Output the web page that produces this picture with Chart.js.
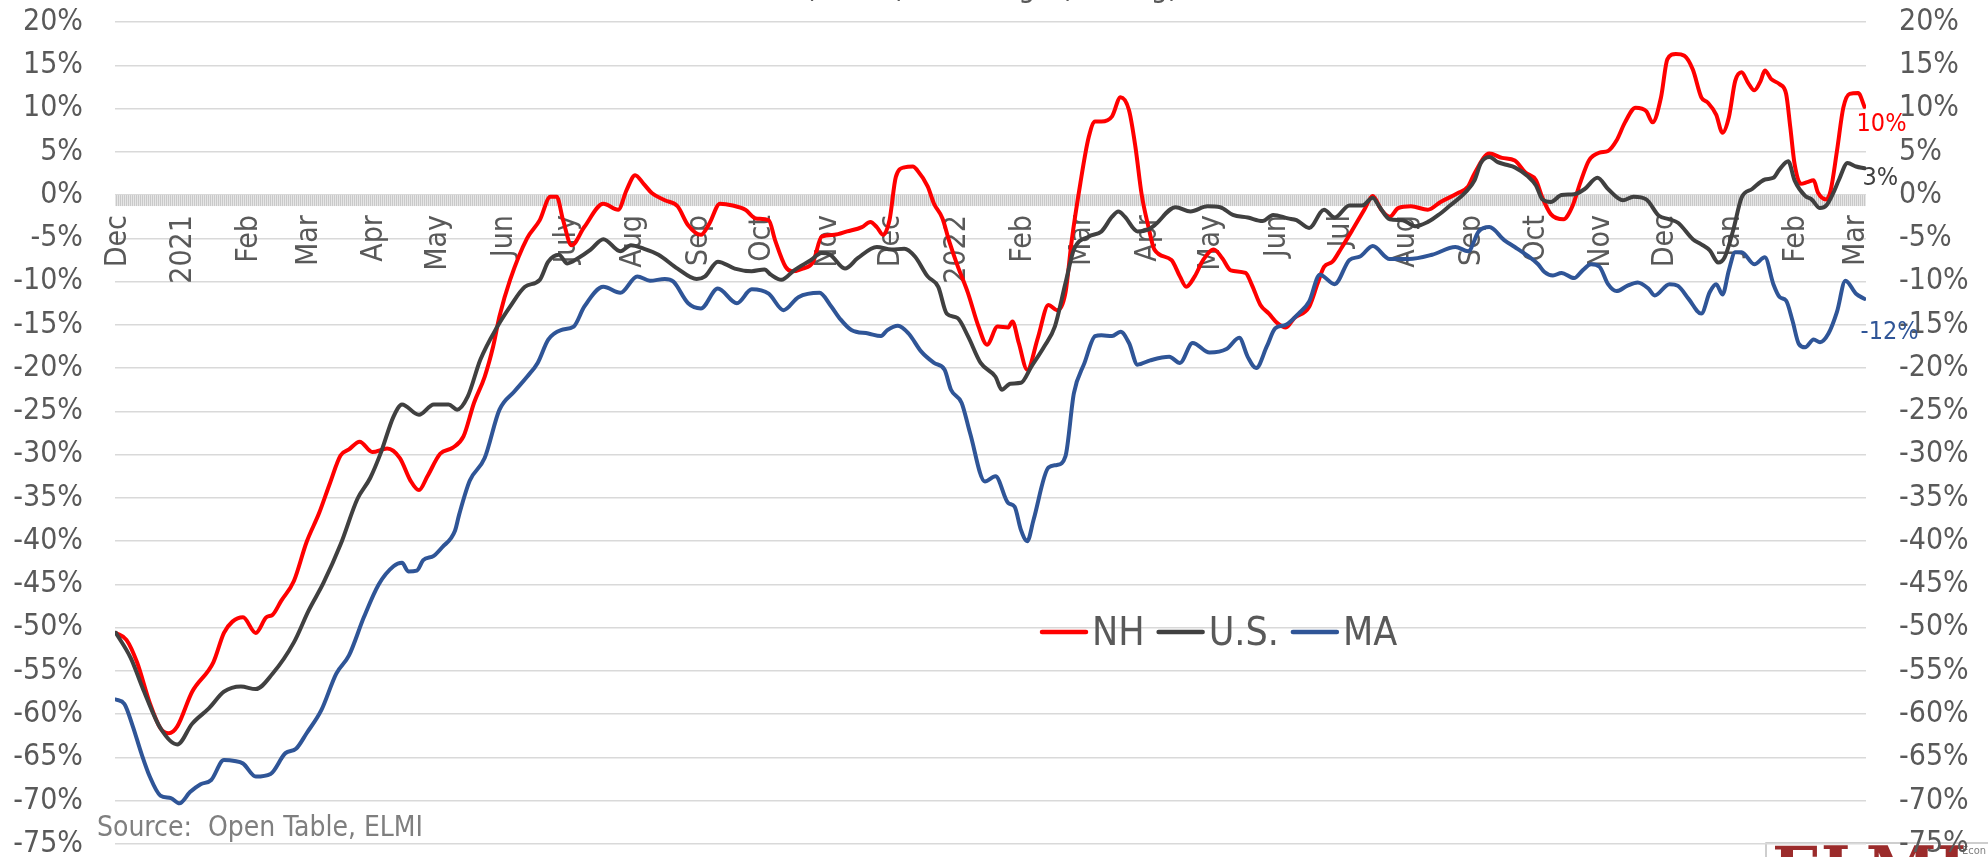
<!DOCTYPE html>
<html>
<head>
<meta charset="utf-8">
<title>Seated Diners (7DMA) % Change</title>
<style>
    body {
        margin: 0;
        background-color: #ffffff;
    }
    #wrap {
        width: 1988px;
        height: 857px;
    }
</style>
</head>
<body>
<div id="wrap"><canvas id="chart" width="1988" height="857"></canvas></div>

<script src="https://cdn.jsdelivr.net/npm/chart.js"></script>
<script>
// x = day number counted from Dec 1, 2020
const monthDays = [0, 31, 62, 90, 121, 151, 182, 212, 243, 274, 304, 335, 365, 396, 427, 455, 486, 516, 547, 577, 608, 639, 669, 700, 730, 761, 792, 820];
const monthLabels = ['Dec', '2021', 'Feb', 'Mar', 'Apr', 'May', 'Jun', 'July', 'Aug', 'Sep', 'Oct', 'Nov', 'Dec', '2022', 'Feb', 'Mar', 'Apr', 'May', 'Jun', 'Jul', 'Aug', 'Sep', 'Oct', 'Nov', 'Dec', 'Jan', 'Feb', 'Mar'];

const seriesNames = ['NH', 'U.S.', 'MA'];

const nhDays = [-1, 4, 9, 15, 20, 24, 28, 35, 45, 50, 54, 59, 65, 70, 73, 77, 83, 89, 95, 100, 105, 109, 114, 120, 127, 133, 138, 142, 146, 152, 158, 163, 168, 173, 177, 180, 185, 193, 199, 204, 207, 210, 214, 220, 229, 236, 240, 244, 248, 252, 258, 264, 269, 275, 279, 284, 290, 296, 301, 307, 310, 315, 318, 323, 328, 332, 338, 344, 351, 355, 358, 361, 364, 367, 371, 375, 377, 382, 385, 389, 392, 396, 401, 406, 410, 415, 420, 422, 425, 429, 434, 439, 443, 447, 450, 454, 458, 461, 464, 469, 473, 477, 480, 483, 486, 489, 497, 501, 504, 508, 512, 517, 521, 525, 532, 535, 539, 543, 547, 551, 555, 562, 566, 569, 573, 577, 582, 588, 592, 596, 600, 604, 610, 618, 624, 632, 637, 640, 647, 653, 659, 664, 669, 672, 676, 682, 686, 690, 694, 699, 703, 707, 711, 716, 721, 724, 728, 731, 735, 739, 743, 747, 750, 754, 757, 760, 763, 766, 769, 772, 775, 777, 780, 784, 787, 789, 791, 794, 797, 800, 802, 806, 808, 811, 814, 817, 821, 824];
const nhValues = [-50.6, -51.4, -54, -58.7, -61.6, -62.2, -61.4, -57.4, -54, -50.6, -49.3, -48.8, -50.6, -48.8, -48.5, -46.9, -44.6, -40.1, -36.7, -33.3, -30.1, -29.4, -28.5, -29.7, -29.3, -30.4, -33, -34.1, -32.5, -29.9, -29.2, -27.9, -24, -21, -17.5, -14, -9.8, -5, -2.9, -0.2, -0.2, -2.9, -5.8, -3.7, -1, -1.7, 0.6, 2.3, 1.3, 0.2, -0.6, -1.3, -3.5, -4.6, -3.3, -1, -1.2, -1.7, -2.7, -2.9, -5.2, -8.3, -8.8, -8.5, -7.7, -4.8, -4.6, -4.2, -3.7, -3.1, -3.7, -4.6, -2.9, 2.1, 3.2, 3.3, 2.9, 1, -1, -2.7, -5.2, -8.1, -11.3, -15.2, -17.3, -15.2, -15.3, -14.6, -17.1, -20.2, -16.5, -12.7, -13.3, -11.3, -5.2, 1.3, 6.7, 8.5, 8.5, 9.1, 11.3, 9.8, 5.6, 0, -3.5, -6.3, -7.5, -9.4, -10.6, -9.4, -7.5, -6.3, -7.3, -8.7, -9, -10.4, -12.7, -13.7, -14.8, -15.3, -14.2, -12.9, -10.2, -8.3, -7.7, -6.2, -4.2, -1.7, -0.1, -1.7, -2.5, -1.5, -1.3, -1.7, -0.8, 0.2, 1, 2.5, 4.8, 4.3, 4, 2.6, 1.7, -0.3, -2.2, -2.8, -1.4, 1.5, 4, 4.9, 5.1, 6.3, 8.4, 10.1, 9.7, 8.4, 11.3, 15.7, 16.3, 16.1, 14.5, 11.3, 10.7, 9.3, 7.2, 9, 13.2, 14.2, 13, 12.1, 13.2, 14.4, 13.4, 12.8, 11.7, 7.8, 3.6, 1.3, 1.5, 1.7, 0.3, -0.5, 0.5, 5.1, 10.1, 11.7, 11.8, 10.2];

const usDays = [-1, 6, 12, 20, 28, 35, 43, 50, 58, 65, 73, 83, 90, 97, 105, 113, 119, 124, 130, 134, 142, 149, 156, 160, 165, 171, 179, 185, 192, 199, 203, 208, 212, 217, 223, 229, 237, 242, 248, 255, 264, 273, 277, 283, 291, 299, 305, 308, 313, 319, 327, 332, 336, 343, 349, 358, 365, 371, 376, 382, 387, 391, 396, 401, 407, 414, 417, 421, 426, 431, 437, 442, 447, 451, 458, 464, 469, 472, 475, 481, 486, 489, 499, 506, 514, 520, 526, 533, 540, 545, 552, 556, 562, 569, 574, 581, 587, 592, 595, 600, 606, 612, 618, 623, 628, 636, 640, 643, 647, 651, 655, 659, 665, 669, 672, 676, 681, 687, 692, 698, 703, 710, 715, 721, 727, 732, 736, 743, 747, 751, 755, 758, 762, 766, 771, 777, 781, 784, 788, 791, 796, 799, 803, 806, 809, 812, 816, 820, 824];
const usValues = [-50.6, -53.5, -57.2, -61.6, -63.5, -61.1, -59.3, -57.4, -56.8, -57.1, -55.3, -51.7, -48, -44.8, -40.4, -35.1, -32.7, -29.8, -25.6, -24.2, -25.4, -24.2, -24.2, -24.8, -23.3, -19, -15.2, -12.9, -10.6, -9.8, -7.7, -6.9, -7.9, -7.3, -6.3, -5.1, -6.5, -5.8, -6.2, -6.9, -8.5, -9.7, -9.4, -7.7, -8.5, -8.8, -8.6, -9.2, -9.8, -8.7, -7.5, -6.7, -6.9, -8.5, -7.3, -6, -6.3, -6.2, -7.1, -9.4, -10.6, -13.7, -14.2, -16.3, -19.4, -21, -22.5, -21.8, -21.7, -19.8, -17.5, -15.2, -10.2, -6.3, -4.8, -4.2, -2.5, -1.9, -2.5, -4.2, -4, -3.5, -1.4, -1.9, -1.3, -1.4, -2.3, -2.6, -3, -2.3, -2.7, -2.9, -3.8, -1.7, -2.6, -1.2, -1.2, -0.3, -1.3, -2.8, -2.9, -3.6, -3.1, -2.3, -1.3, 0.4, 1.7, 3.7, 4.4, 3.8, 3.5, 3.2, 2.2, 1.1, -0.5, -0.8, 0, 0.1, 0.7, 2, 0.7, -0.6, -0.2, -0.5, -2.4, -2.8, -3.2, -5.1, -5.7, -6.4, -7.8, -7.2, -4.1, -0.3, 0.7, 1.8, 2, 3, 3.9, 1.7, -0.1, -0.5, -1.5, -1.2, 0.1, 1.8, 3.7, 3.3, 3.1];

const maDays = [-1, 3, 7, 11, 15, 20, 25, 29, 34, 39, 44, 50, 55, 59, 65, 72, 79, 84, 89, 96, 103, 109, 116, 123, 130, 134, 137, 141, 144, 149, 153, 159, 161, 166, 173, 180, 187, 193, 198, 203, 209, 215, 220, 229, 237, 245, 251, 258, 262, 269, 275, 283, 292, 299, 307, 314, 321, 331, 336, 341, 346, 354, 360, 363, 368, 373, 379, 385, 390, 393, 398, 402, 409, 414, 420, 423, 426, 429, 432, 439, 443, 447, 451, 456, 461, 464, 469, 473, 477, 481, 487, 496, 501, 507, 515, 523, 529, 533, 537, 542, 546, 551, 557, 562, 567, 574, 581, 586, 592, 600, 609, 620, 631, 637, 642, 647, 654, 659, 665, 670, 673, 677, 681, 687, 691, 695, 699, 703, 707, 712, 717, 722, 725, 732, 736, 741, 747, 751, 754, 757, 760, 763, 766, 772, 777, 781, 784, 787, 790, 793, 796, 800, 803, 807, 811, 815, 820, 824];
const maValues = [-58.3, -58.8, -61.4, -64.5, -67.2, -69.4, -69.7, -70.3, -69, -68.1, -67.6, -65.3, -65.4, -65.7, -67.2, -66.9, -64.5, -64, -62.2, -59.5, -55.3, -53.2, -48.8, -45, -42.9, -42.5, -43.5, -43.4, -42.2, -41.7, -40.7, -38.8, -36.9, -33, -30.4, -24.8, -22.7, -21, -19.4, -16.7, -15.6, -15.2, -12.9, -10.6, -11.3, -9.4, -9.9, -9.7, -10, -12.5, -13.1, -10.8, -12.5, -10.9, -11.4, -13.3, -11.8, -11.3, -12.7, -14.4, -15.6, -16, -16.3, -15.6, -15.1, -16, -18.1, -19.4, -20.2, -22.5, -24, -27.5, -33.1, -32.5, -35.6, -36, -38.7, -40, -37.5, -31.5, -31.2, -30.2, -22.9, -19.4, -16.3, -16.2, -16.3, -15.8, -17.1, -19.6, -19.1, -18.7, -19.4, -17.1, -18.2, -17.8, -16.5, -18.7, -20, -17.5, -15.4, -15, -13.7, -12.3, -9.2, -10.3, -7.5, -7.1, -5.9, -7.4, -7.4, -6.9, -6, -6.5, -4.2, -3.7, -5.2, -6, -7, -8, -8.9, -9.3, -9, -9.6, -8.7, -8, -8.3, -10.3, -11.1, -10.5, -10.1, -10.8, -11.6, -10.3, -10.5, -12, -13.7, -11.2, -10.3, -11.5, -8.7, -6.6, -6.6, -8, -7.2, -10.3, -11.8, -12.2, -14.5, -17.2, -17.6, -16.7, -17, -16, -13.5, -9.9, -11.4, -12];

const textGray = '#595959';
const fontFam = "'DejaVu Sans Condensed', 'Liberation Sans Narrow', 'DejaVu Sans', sans-serif";

function toPoints(days, values) {
    return days.map((d, i) => ({ x: d, y: values[i] }));
}

// keep the y axes from pushing the plot area in for their label overflow
function fixYAxis(width) {
    return (s) => {
        s.width = width;
        s.paddingTop = 10;
        s.paddingBottom = 10;
    };
}

// zero axis band, end-of-line labels, legend, source note, title, logo
const extras = {
    id: 'extras',
    beforeDraw(chart) {
        const ctx = chart.ctx;
        ctx.save();
        // cropped logo box, bottom right
        ctx.strokeStyle = '#bfbfbf';
        ctx.lineWidth = 1.5;
        ctx.strokeRect(1766, 843, 230, 20);
        ctx.fillStyle = '#9b2b2b';
        ctx.font = "bold 64px 'DejaVu Serif', serif";
        ctx.textBaseline = 'top';
        ctx.fillText('ELMI', 1772, 843);
        ctx.font = '11px ' + fontFam;
        ctx.fillStyle = '#7f7f7f';
        ctx.fillText('Econ', 1962, 846);
        ctx.restore();
    },
    beforeDatasetsDraw(chart) {
        const ctx = chart.ctx;
        const area = chart.chartArea;
        const y0 = chart.scales.y.getPixelForValue(0);
        const p = document.createElement('canvas');
        p.width = 2; p.height = 1;
        const pc = p.getContext('2d');
        pc.fillStyle = '#e6e6e6'; pc.fillRect(0, 0, 2, 1);
        pc.fillStyle = '#c9c9c9'; pc.fillRect(0, 0, 1, 1);
        ctx.save();
        ctx.fillStyle = ctx.createPattern(p, 'repeat');
        ctx.fillRect(area.left, y0, area.right - area.left, 11);
        ctx.restore();
    },
    afterDatasetsDraw(chart, args, opts) {
        const ctx = chart.ctx;
        ctx.save();
        ctx.font = '25px ' + fontFam;
        ctx.textAlign = 'left';
        ctx.textBaseline = 'middle';
        chart.data.datasets.forEach((ds, i) => {
            const meta = chart.getDatasetMeta(i);
            const last = meta.data[meta.data.length - 1];
            const v = ds.data[ds.data.length - 1].y;
            const off = opts.offsets[i];
            ctx.fillStyle = ds.borderColor;
            ctx.fillText(Math.round(v) + '%', last.x + off[0], last.y + off[1]);
        });
        ctx.restore();
    },
    afterDraw(chart, args, opts) {
        const ctx = chart.ctx;
        ctx.save();
        // legend
        let x = opts.legendX;
        const y = opts.legendY;
        ctx.font = '39px ' + fontFam;
        ctx.textBaseline = 'alphabetic';
        chart.data.datasets.forEach((ds) => {
            ctx.strokeStyle = ds.borderColor;
            ctx.lineWidth = 4.5;
            ctx.lineCap = 'round';
            ctx.beginPath();
            ctx.moveTo(x, y);
            ctx.lineTo(x + 44, y);
            ctx.stroke();
            x += 50;
            ctx.fillStyle = textGray;
            ctx.fillText(ds.label, x, y + 13);
            x += ctx.measureText(ds.label).width + 14;
        });
        // source
        ctx.font = '28px ' + fontFam;
        ctx.fillStyle = '#7f7f7f';
        ctx.fillText('Source:  Open Table, ELMI', 97, 836);
        // title, cut off by the top edge
        ctx.font = '30px ' + fontFam;
        ctx.fillStyle = textGray;
        const pre = 'Seated Diners ';
        const tx = 805 - ctx.measureText(pre).width;
        ctx.fillText(pre + '(7DMA) % Change (vs. Avg)', tx, -3);
        ctx.restore();
    }
};

const tickFont = { family: fontFam, size: 30, lineHeight: 0.8 };

new Chart(document.getElementById('chart'), {
    type: 'line',
    data: {
        datasets: [
            { label: seriesNames[0], data: toPoints(nhDays, nhValues), borderColor: '#ff0000', order: 3 },
            { label: seriesNames[1], data: toPoints(usDays, usValues), borderColor: '#404040', order: 2 },
            { label: seriesNames[2], data: toPoints(maDays, maValues), borderColor: '#2f5597', order: 1 }
        ]
    },
    options: {
        responsive: false,
        animation: false,
        devicePixelRatio: 1,
        layout: { padding: { left: 0, right: 0, top: 22, bottom: 13 } },
        elements: {
            line: { borderWidth: 4, cubicInterpolationMode: 'monotone', borderCapStyle: 'round', borderJoinStyle: 'round' },
            point: { radius: 0, hoverRadius: 0 }
        },
        plugins: {
            legend: { display: false },
            tooltip: { enabled: false },
            extras: {
                offsets: [[-8, 18], [-2, 10], [-4, 34]],
                legendX: 1042,
                legendY: 632
            }
        },
        scales: {
            x: {
                type: 'linear',
                position: { y: 0 },
                min: -1.4,
                max: 824.7,
                grid: { display: false, drawTicks: false },
                border: { display: false },
                afterBuildTicks: (s) => { s.ticks = monthDays.map(v => ({ value: v })); },
                afterFit: (s) => { s.paddingLeft = 0; s.paddingRight = 0; },
                ticks: {
                    autoSkip: false,
                    minRotation: 90,
                    maxRotation: 90,
                    padding: 20,
                    color: textGray,
                    font: tickFont,
                    callback: (v, i) => monthLabels[i]
                }
            },
            y: {
                position: 'left',
                min: -75,
                max: 20,
                afterFit: fixYAxis(115),
                grid: { color: '#d9d9d9', lineWidth: 1.5, drawTicks: false },
                border: { display: false },
                ticks: { stepSize: 5, padding: 32, color: textGray, font: tickFont, callback: v => v + '%' }
            },
            y2: {
                position: 'right',
                min: -75,
                max: 20,
                afterFit: fixYAxis(122),
                grid: { display: false, drawTicks: false },
                border: { display: false },
                ticks: { stepSize: 5, padding: 33, color: textGray, font: tickFont, callback: v => v + '%' }
            }
        }
    },
    plugins: [extras]
});
</script>
</body>
</html>
